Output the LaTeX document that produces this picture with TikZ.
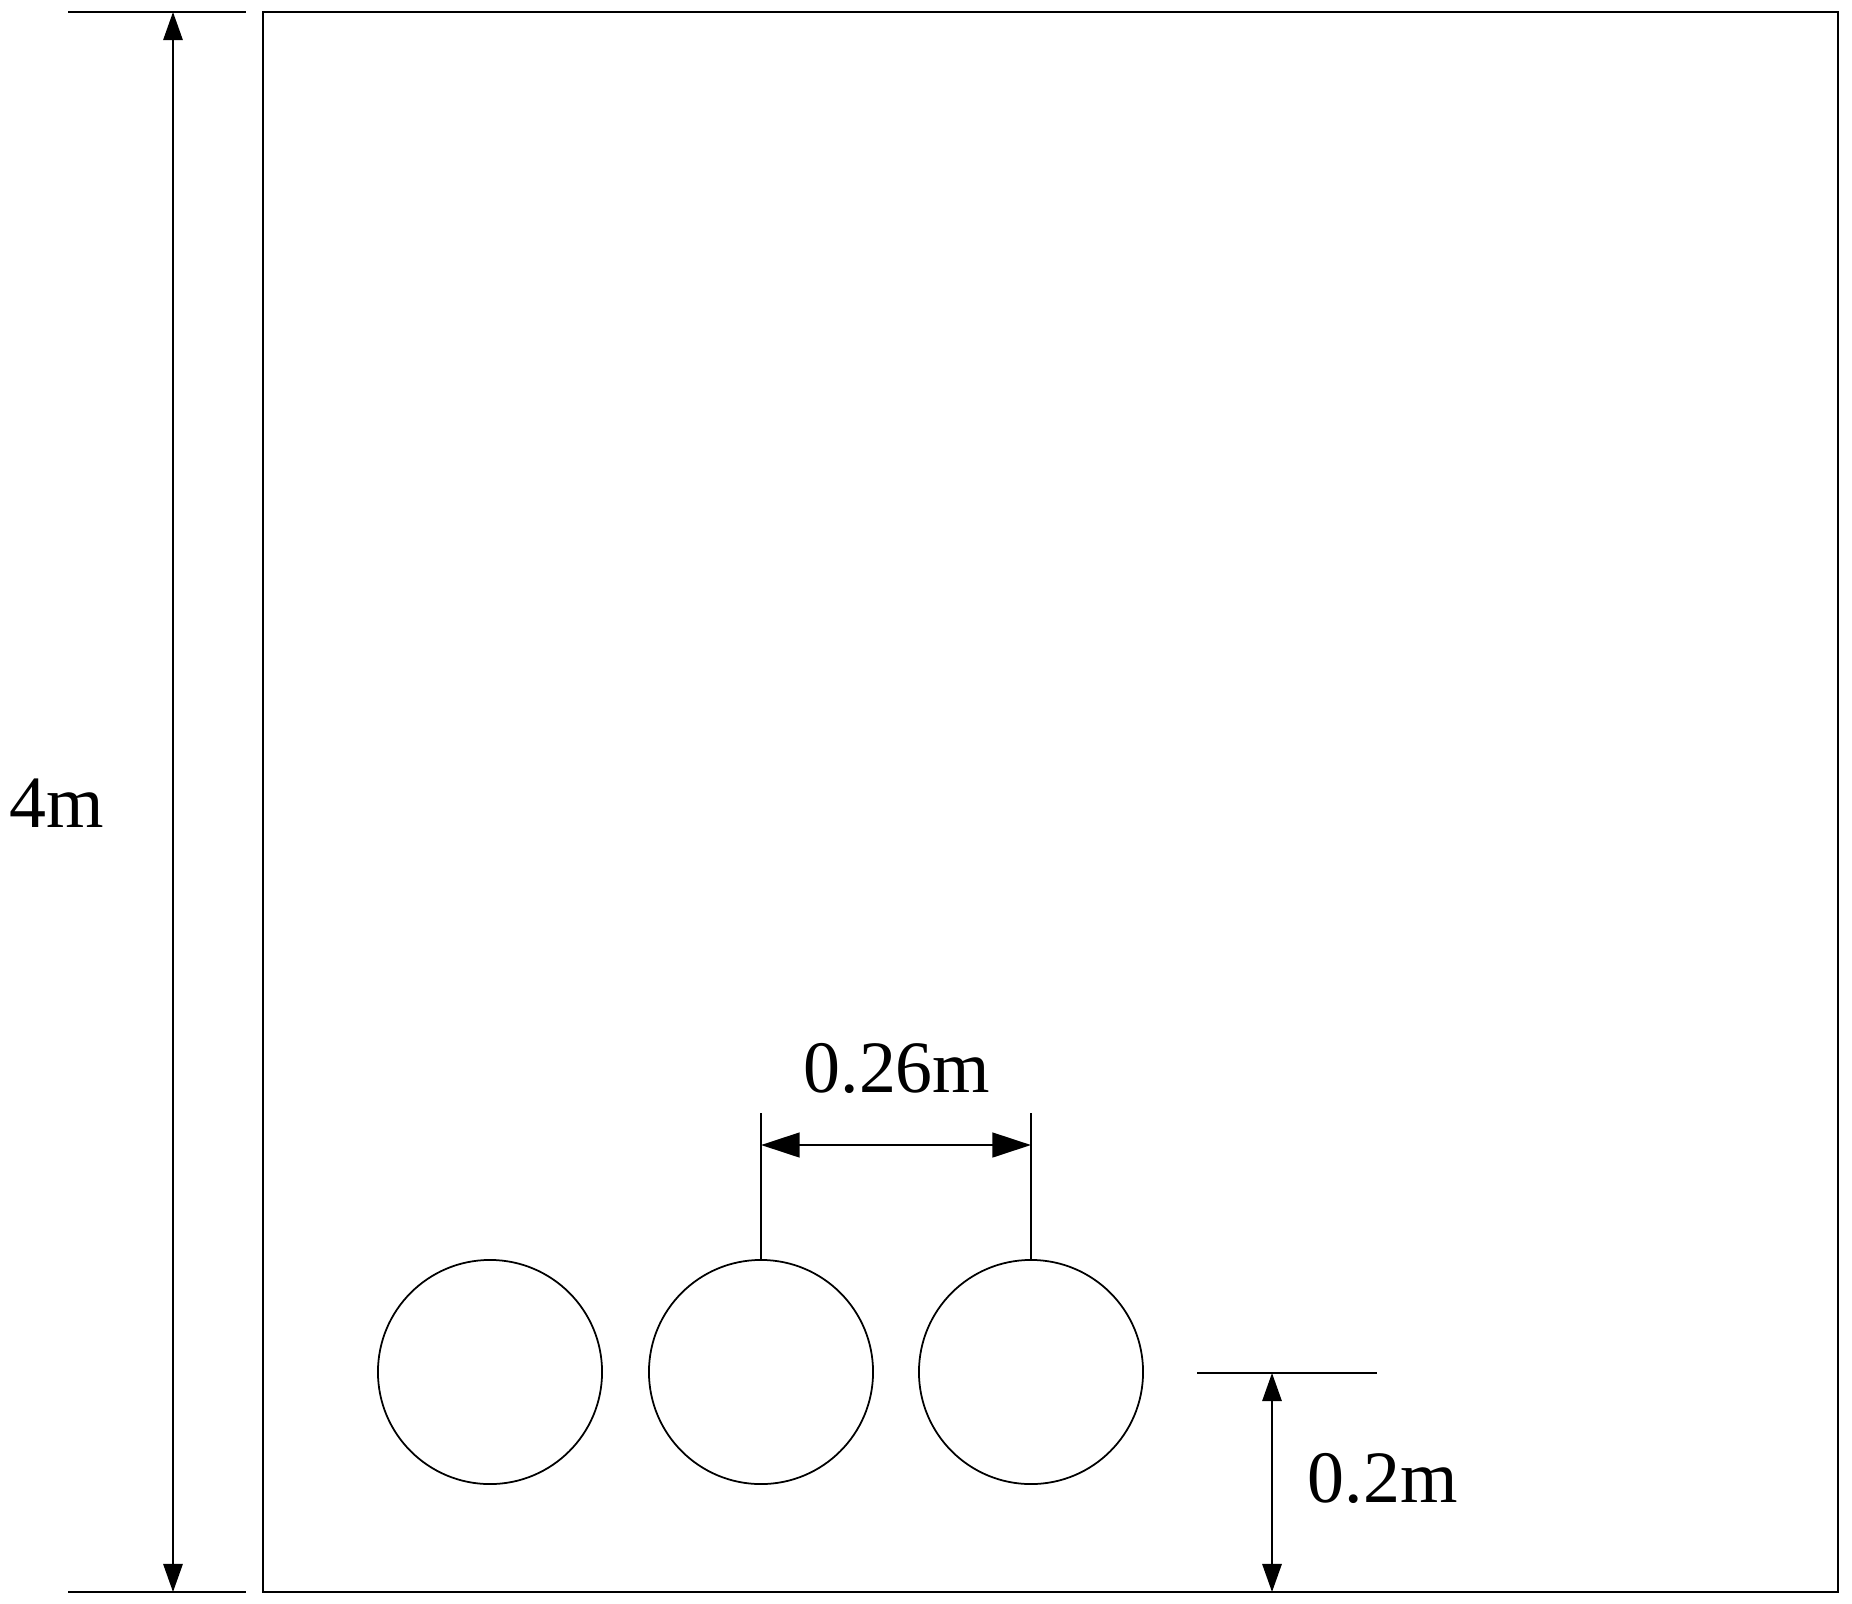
\documentclass[tikz,border=0pt]{standalone}
\usepackage{fontspec}
\setmainfont{Liberation Serif}
\usetikzlibrary{arrows.meta}

\tikzset{
  wall/.style={line width=0.8pt},
  tube/.style={circle, draw, line width=0.5pt, inner sep=0pt, minimum size=2.24cm},
  dimsmall/.style={line width=0.6pt, {Triangle[length=8pt,width=5.5pt]}-{Triangle[length=8pt,width=5.5pt]}},
  dimbig/.style={line width=0.8pt, {Triangle[length=11pt,width=7pt]}-{Triangle[length=11pt,width=7pt]}},
  dimtext/.style={font=\fontsize{21}{25}\selectfont, inner sep=0pt}
}

\begin{document}
\begin{tikzpicture}[x=0.01cm, y=-0.01cm]
    \useasboundingbox (0,0) rectangle (1852,1603);
    % domain
    \draw[wall] (263,12) rectangle (1838,1592);
    \coordinate (topL) at (68,12);
    \coordinate (topR) at (246,12);
    \coordinate (botL) at (68,1592);
    \coordinate (botR) at (246,1592);
    \draw[wall] (topL) -- (topR);
    \draw[wall] (botL) -- (botR);
    \coordinate (hTop) at (173,12);
    \coordinate (hBot) at (173,1592);
    \draw[dimsmall] (hTop) -- (hBot);
    \node[dimtext] (height) at (57,803) {4m};
    % tubes
    \node[tube] (tubeA) at (490,1372) {};
    \node[tube] (tubeB) at (761,1372) {};
    \node[tube] (tubeC) at (1031,1372) {};
    % pitch
    \coordinate (pB) at (761,1113);
    \coordinate (pC) at (1031,1113);
    \draw[line width=0.6pt] (tubeB.north) -- (pB);
    \draw[line width=0.6pt] (tubeC.north) -- (pC);
    \coordinate (aB) at (761,1145);
    \coordinate (aC) at (1031,1145);
    \draw[dimbig] (aB) -- (aC);
    \node[dimtext] (pitch) at (897,1068) {0.26m};
    % clearance
    \coordinate (gL) at (1197,1373);
    \coordinate (gR) at (1377,1373);
    \draw[wall] (gL) -- (gR);
    \coordinate (gTop) at (1272,1373);
    \coordinate (gBot) at (1272,1592);
    \draw[dimsmall] (gTop) -- (gBot);
    \node[dimtext, anchor=west] (gap) at (1307,1478) {0.2m};
\end{tikzpicture}
\end{document}
